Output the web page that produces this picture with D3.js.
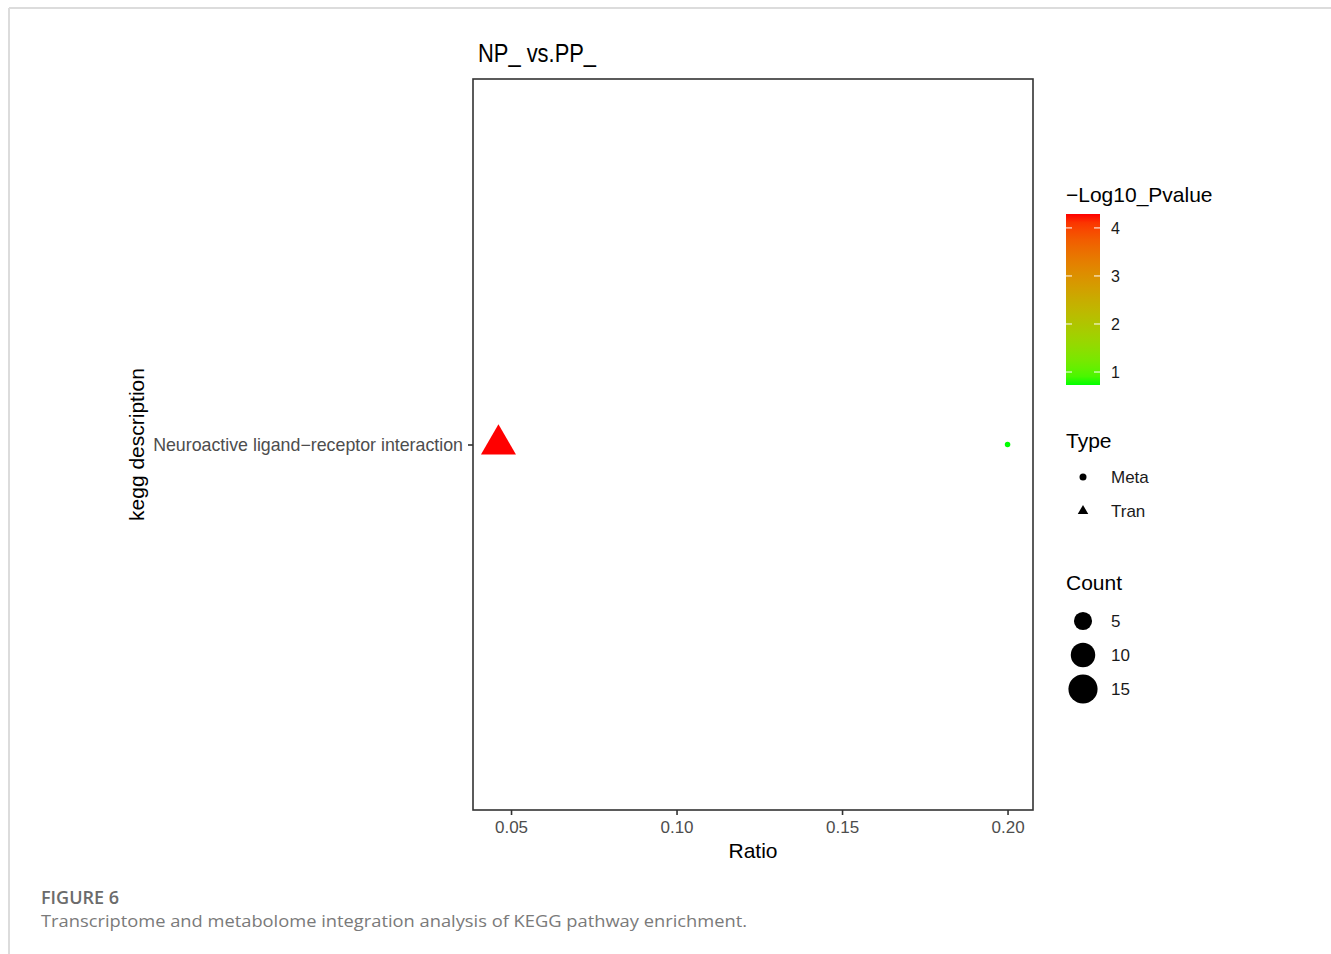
<!DOCTYPE html>
<html>
<head>
<meta charset="utf-8">
<script src="https://cdn.jsdelivr.net/npm/d3@7"></script>
<style>
  body { margin: 0; background: #fff; }
  svg { display: block; font-family: "Liberation Sans", Arial, sans-serif; }
  .frame { stroke: #dcdcdc; stroke-width: 2; }
  .xaxis text { fill: #4d4d4d; font-size: 17px; }
  .yaxis text { fill: #4d4d4d; font-size: 17.8px; }
  .caption { font-family: "Open Sans", "Noto Sans", sans-serif; }
</style>
</head>
<body>
<div id="chart"></div>
<script>
// data
var categories = ["Neuroactive ligand\u2212receptor interaction"];
var types = ["Meta", "Tran"];
var ratios = [0.2, 0.0462];
var logP = [0.73, 4.29];
var counts = [1, 16];
var xTicks = [0.05, 0.10, 0.15, 0.20];
var colorTicks = [1, 2, 3, 4];
var countBreaks = [5, 10, 15];

var W = 1331, H = 954;
var panel = { left: 473, right: 1033, top: 79, bottom: 810 };

var svg = d3.select("#chart").append("svg").attr("width", W).attr("height", H);

// page frame
svg.append("line").attr("class", "frame").attr("x1", 9).attr("x2", W).attr("y1", 8).attr("y2", 8);
svg.append("line").attr("class", "frame").attr("x1", 9).attr("x2", 9).attr("y1", 8).attr("y2", H);

var points = types.map(function (t, i) {
  return { type: t, ratio: ratios[i], p: logP[i], count: counts[i], cat: categories[0] };
});

// ggplot style 5% expansion
var ext = d3.extent(ratios);
var pad = (ext[1] - ext[0]) * 0.05;
var x = d3.scaleLinear().domain([ext[0] - pad, ext[1] + pad]).range([panel.left, panel.right]);
var y = d3.scalePoint().domain(categories).range([panel.bottom, panel.top]).padding(0.5);

var color = d3.scaleLinear().domain(d3.extent(logP)).range(["#00ff00", "#ff0000"]).interpolate(d3.interpolateLab);

// size: area palette like scale_size
var cExt = d3.extent(counts);
var tScale = d3.scaleLinear().domain(cExt).range([0, 1]);
var dScale = d3.scaleLinear().domain([0, 1]).range([5.5, 30]);
function diam(c) { return dScale(Math.sqrt(Math.max(0, tScale(c)))); }
var triFactor = 35 / 30;
function triArea(side) { return Math.sqrt(3) / 4 * side * side; }

// title
svg.append("text")
  .attr("x", 478).attr("y", 62)
  .attr("font-size", 25).attr("fill", "#000")
  .attr("textLength", 118).attr("lengthAdjust", "spacingAndGlyphs")
  .text("NP_ vs.PP_");

// panel
svg.append("rect")
  .attr("x", panel.left).attr("y", panel.top)
  .attr("width", panel.right - panel.left).attr("height", panel.bottom - panel.top)
  .attr("fill", "none").attr("stroke", "#333").attr("stroke-width", 1.6);

// axes
var xAxis = svg.append("g").attr("class", "xaxis")
  .attr("transform", "translate(0," + panel.bottom + ")")
  .call(d3.axisBottom(x).tickValues(xTicks).tickFormat(d3.format(".2f")).tickSize(5).tickPadding(6));
xAxis.select(".domain").remove();
xAxis.selectAll("line").attr("stroke", "#333").attr("stroke-width", 1.6);

var yAxis = svg.append("g").attr("class", "yaxis")
  .attr("transform", "translate(" + panel.left + ",0)")
  .call(d3.axisLeft(y).tickSize(5).tickPadding(5));
yAxis.select(".domain").remove();
yAxis.selectAll("line").attr("stroke", "#333").attr("stroke-width", 1.6);

svg.append("text")
  .attr("x", (panel.left + panel.right) / 2).attr("y", 858)
  .attr("text-anchor", "middle").attr("font-size", 21)
  .text("Ratio");

svg.append("text")
  .attr("transform", "translate(144," + (panel.top + panel.bottom) / 2 + ") rotate(-90)")
  .attr("text-anchor", "middle").attr("font-size", 21)
  .text("kegg description");

// marks
var marks = svg.append("g");
points.forEach(function (d) {
  var cx = x(d.ratio), cy = y(d.cat);
  if (d.type === "Meta") {
    marks.append("circle").attr("cx", cx).attr("cy", cy)
      .attr("r", diam(d.count) / 2).attr("fill", color(d.p));
  } else {
    marks.append("path")
      .attr("transform", "translate(" + cx + "," + cy + ")")
      .attr("d", d3.symbol(d3.symbolTriangle, triArea(diam(d.count) * triFactor))())
      .attr("fill", color(d.p));
  }
});

// legend: colourbar
var lg = svg.append("g");
lg.append("text").attr("x", 1066).attr("y", 202).attr("font-size", 21).text("\u2212Log10_Pvalue");

var barX = 1066, barW = 34, barTop = 214, barBot = 385;
var cbY = d3.scaleLinear().domain(d3.extent(logP)).range([barBot, barTop]);
var grad = svg.append("defs").append("linearGradient").attr("id", "cbar")
  .attr("x1", 0).attr("y1", 1).attr("x2", 0).attr("y2", 0);
d3.range(0, 1.0001, 0.05).forEach(function (t) {
  grad.append("stop").attr("offset", t)
    .attr("stop-color", color(cbY.domain()[0] + t * (cbY.domain()[1] - cbY.domain()[0])));
});
lg.append("rect").attr("x", barX).attr("y", barTop).attr("width", barW).attr("height", barBot - barTop)
  .attr("fill", "url(#cbar)");
colorTicks.forEach(function (v) {
  lg.append("line").attr("x1", barX).attr("x2", barX + 6).attr("y1", cbY(v)).attr("y2", cbY(v))
    .attr("stroke", "#fff").attr("stroke-width", 1);
  lg.append("line").attr("x1", barX + barW - 6).attr("x2", barX + barW).attr("y1", cbY(v)).attr("y2", cbY(v))
    .attr("stroke", "#fff").attr("stroke-width", 1);
  lg.append("text").attr("x", 1111).attr("y", cbY(v)).attr("dy", "0.36em")
    .attr("font-size", 16).attr("fill", "#1a1a1a").text(v);
});

// legend: type
lg.append("text").attr("x", 1066).attr("y", 448).attr("font-size", 21).text("Type");
types.forEach(function (t, i) {
  var cy = 477 + i * 34;
  if (t === "Meta") {
    lg.append("circle").attr("cx", 1083).attr("cy", cy).attr("r", 3.5).attr("fill", "#000");
  } else {
    lg.append("path").attr("transform", "translate(1083," + cy + ")")
      .attr("d", d3.symbol(d3.symbolTriangle, triArea(10.5))()).attr("fill", "#000");
  }
  lg.append("text").attr("x", 1111).attr("y", cy).attr("dy", "0.36em")
    .attr("font-size", 17).attr("fill", "#1a1a1a").text(t);
});

// legend: count
lg.append("text").attr("x", 1066).attr("y", 590).attr("font-size", 21).text("Count");
countBreaks.forEach(function (c, i) {
  var cy = 621 + i * 34;
  lg.append("circle").attr("cx", 1083).attr("cy", cy).attr("r", diam(c) / 2).attr("fill", "#000");
  lg.append("text").attr("x", 1111).attr("y", cy).attr("dy", "0.36em")
    .attr("font-size", 17).attr("fill", "#1a1a1a").text(c);
});

// caption
svg.append("text").attr("class", "caption")
  .attr("x", 41).attr("y", 904).attr("font-size", 18).attr("font-weight", 600)
  .attr("fill", "#6b6b6b").text("FIGURE 6");
svg.append("text").attr("class", "caption")
  .attr("x", 41).attr("y", 927).attr("font-size", 17)
  .attr("fill", "#7a7a7a").attr("textLength", 706).attr("lengthAdjust", "spacingAndGlyphs")
  .text("Transcriptome and metabolome integration analysis of KEGG pathway enrichment.");
</script>
</body>
</html>
